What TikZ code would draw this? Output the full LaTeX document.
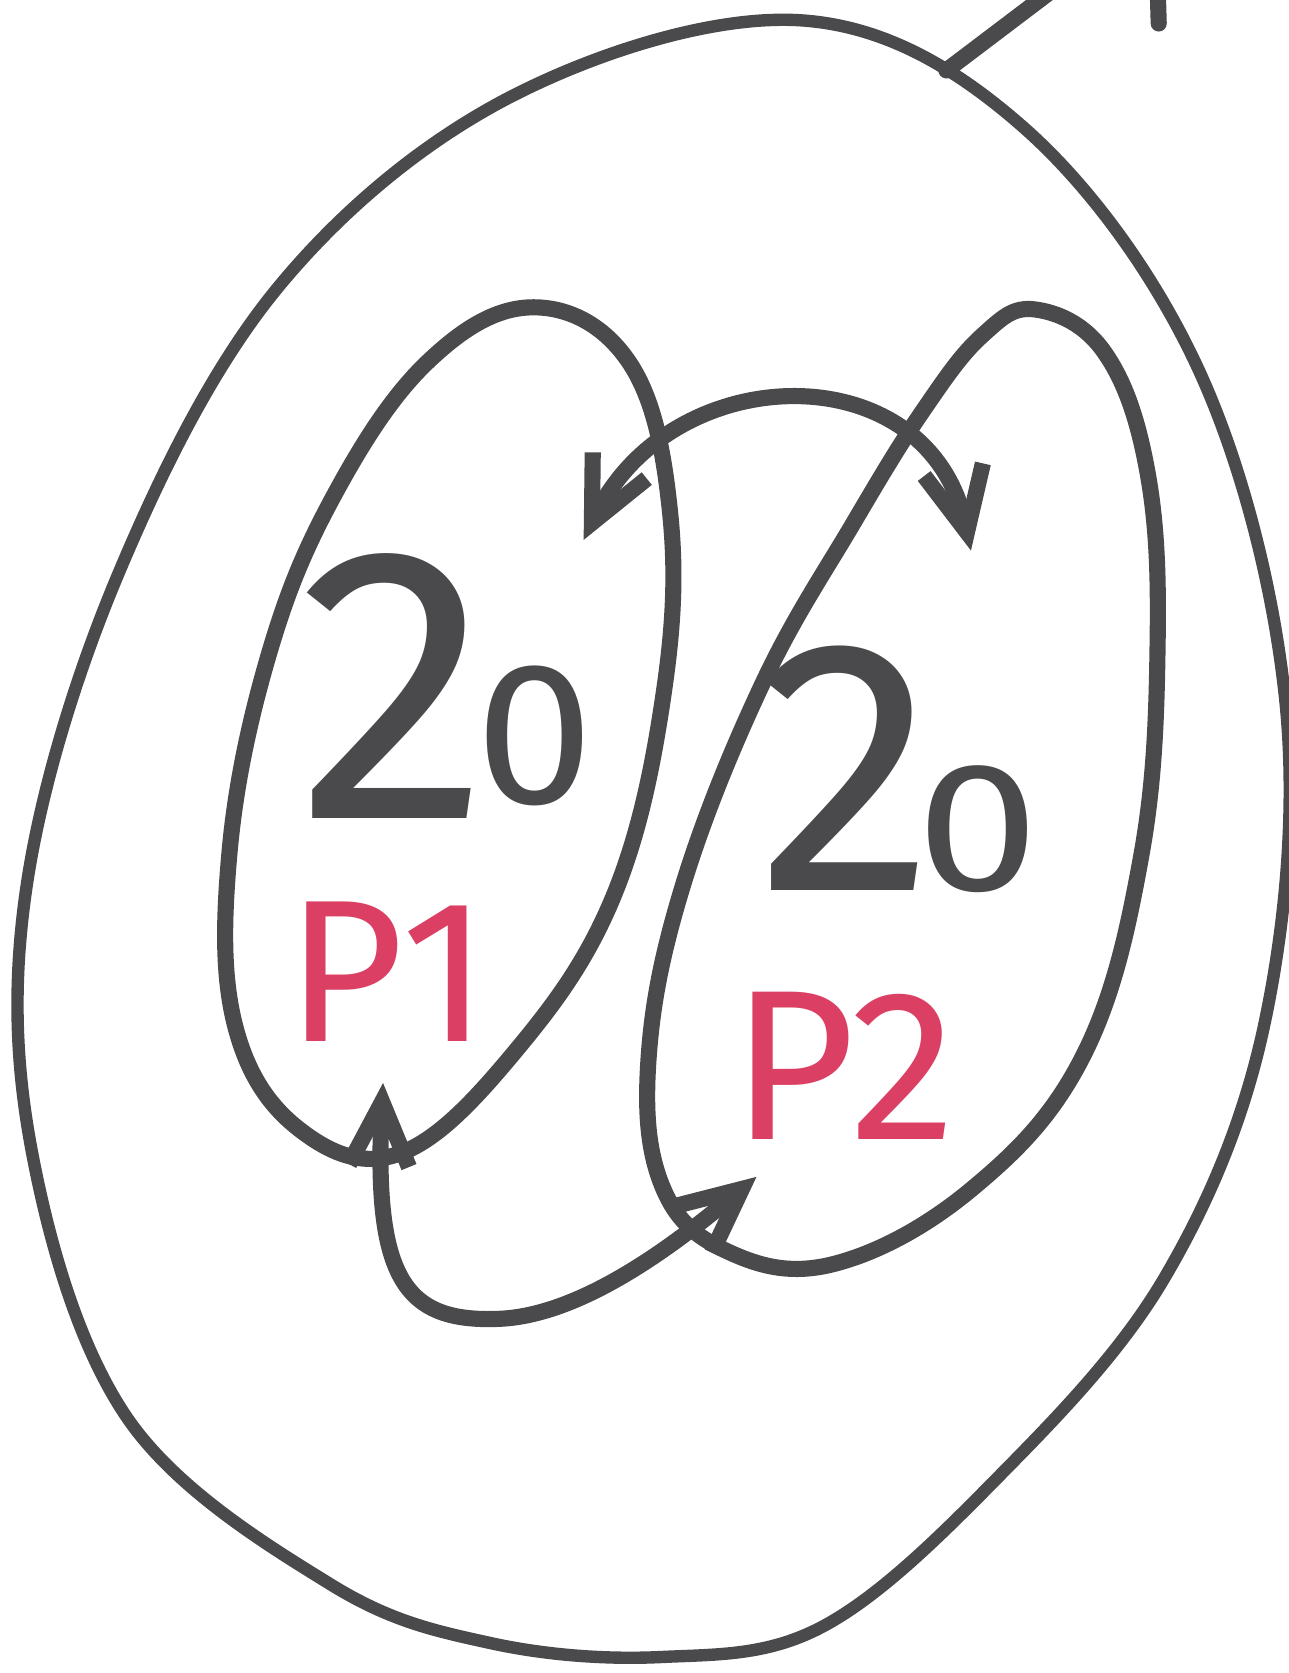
\documentclass[tikz,border=0pt]{standalone}
\usepackage{graphicx}
\usepackage{fontspec}
\setmainfont{Fira Sans}
\usetikzlibrary{arrows.meta,positioning}
\definecolor{MarkerGray}{HTML}{4A4A4C}
\definecolor{MarkerRed}{HTML}{DB3F63}

\begin{document}
\begin{tikzpicture}[
    x=0.01cm, y=-0.01cm,
    pen/.style={draw=MarkerGray, line width=4.3pt, line cap=round, line join=round},
    penthin/.style={pen, line width=3.3pt},
    seta/.style={pen, {Straight Barb[length=17pt,width=16pt]}-{Straight Barb[length=17pt,width=16pt]}},
    numero/.style={text=MarkerGray, inner sep=0pt},
    rotulo/.style={text=MarkerRed, inner sep=0pt, font=\fontsize{54}{54}\selectfont}
]

  % Folha
  \fill[white] (0,0) rectangle (1208,1568);
  \useasboundingbox (0,0) rectangle (1208,1568);
  \clip (0,0) rectangle (1208,1568);

  % =========================================================================
  % CONJUNTO EXTERIOR
  % =========================================================================
  \draw[penthin] plot[smooth cycle, tension=0.6] coordinates {
    (750,19) (960,120) (1125,350) (1205,660) (1185,960) (1090,1200)
    (930,1390) (770,1525) (620,1553) (460,1540) (310,1485)
    (120,1330) (30,1080) (25,830) (110,540) (260,270) (480,90)};
  \coordinate (cauda) at (887,66);
  \draw[pen] (cauda) -- (990,-12);
  \draw[pen] (1085,-12) -- (1086,22);

  % =========================================================================
  % P1 (ESQUERDA)
  % =========================================================================
  \draw[pen] plot[smooth cycle, tension=0.65] coordinates {
    (500,288) (590,340) (628,480) (622,650) (575,840) (484,984) (375,1081)
    (280,1058) (220,960) (215,800) (250,620) (310,470) (400,340)};
  \node[numero] (num1) at (418,643) {{\fontsize{104}{104}\selectfont 2}\kern-4pt\raisebox{4pt}{\scalebox{1.05}[1]{\fontsize{54}{54}\selectfont 0}}};
  \node[rotulo] (lab1) at (363,911) {P1};

  % =========================================================================
  % P2 (DIREITA)
  % =========================================================================
  \draw[pen] plot[smooth cycle, tension=0.65] coordinates {
    (970,290) (1035,330) (1075,440) (1085,600) (1070,800) (1015,990)
    (910,1115) (780,1185) (680,1172) (620,1110) (608,990) (640,830)
    (715,640) (800,490) (865,385) (920,315)};
  \node[numero] (num2) at (842,721) {{\fontsize{96}{96}\selectfont 2}\kern-5pt\scalebox{1.2}[1]{\fontsize{49}{49}\selectfont 0}};
  \node[rotulo, font=\fontsize{57}{57}\selectfont] (lab2) at (791,999) {P2};

  % =========================================================================
  % SETAS ENTRE P1 E P2
  % =========================================================================
  \coordinate (a1) at (547,506);
  \coordinate (a2) at (910,516);
  \draw[seta] (a1) .. controls (630,335) and (870,330) .. (a2);

  \coordinate (b1) at (359,1015);
  \coordinate (b2) at (709,1103);
  \draw[seta] (b1) .. controls (350,1200) and (380,1240) .. (469,1236)
              .. controls (550,1232) and (640,1160) .. (b2);

\end{tikzpicture}
\end{document}
